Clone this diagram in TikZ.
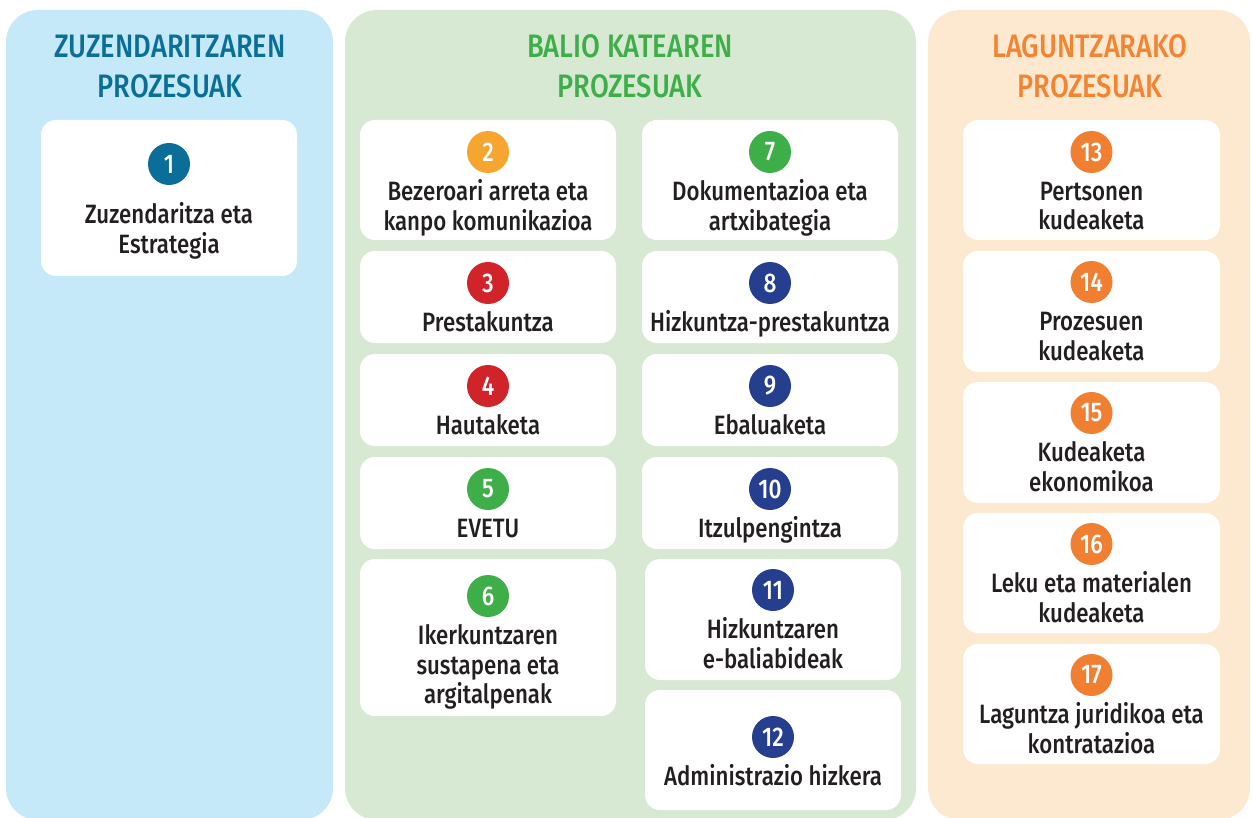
\documentclass[tikz,border=0pt]{standalone}
\usepackage{fontspec}
\setmainfont{Fira Sans}[UprightFont={* Medium}, FakeStretch=0.84]
\definecolor{bluebg}{HTML}{C5E9F8}
\definecolor{bluett}{HTML}{0A6F97}
\definecolor{greenbg}{HTML}{D8E9D3}
\definecolor{greentt}{HTML}{3EAE49}
\definecolor{orangebg}{HTML}{FDE9CF}
\definecolor{orangett}{HTML}{F28433}
\definecolor{cblue}{HTML}{0B6E99}
\definecolor{camber}{HTML}{F6A531}
\definecolor{cred}{HTML}{D1232A}
\definecolor{cgreen}{HTML}{3EAE49}
\definecolor{cnavy}{HTML}{253E8D}
\definecolor{corange}{HTML}{F07F32}
\definecolor{txt}{HTML}{231F20}
\tikzset{
  panel/.style={rectangle, rounded corners=32pt, inner sep=0pt, outer sep=0pt, anchor=north west, draw=none},
  card/.style={rectangle, fill=white, rounded corners=15pt, inner sep=0pt, outer sep=0pt, anchor=north west, draw=none},
  badge/.style={circle, minimum size=42pt, inner sep=0pt, text=white, font=\fontsize{27}{30}\selectfont},
  plabel/.style={anchor=base, inner sep=0pt, text=txt, font=\fontsize{26.5}{29.5}\selectfont},
  ptitle/.style={anchor=base, inner sep=0pt, font=\fontsize{32.5}{40}\selectfont},
}
\def\gap{48.5}
\newcommand\proc[9]{%
  \node[card, minimum width={#4-#2}, minimum height={#5-#3}] (#1) at (#2,#3) {};
  \node[badge, fill=#6] (#1n) at ({(#2+#4)/2},#8) {#7};
  \node[plabel] (#1t) at ({(#2+#4)/2},{#8+\gap}) {\begin{tabular}[t]{@{}c@{}}#9\end{tabular}};
}
\begin{document}
\begin{tikzpicture}[x=1pt,y=-1pt]
\useasboundingbox (0,0) rectangle (1252,818);
% panels
\node[panel, fill=bluebg, minimum width=327, minimum height=810] (pz) at (6,10) {};
\node[panel, fill=greenbg, minimum width=571, minimum height=810] (pb) at (345,10) {};
\node[panel, fill=orangebg, minimum width=322, minimum height=810] (pl) at (928,10) {};
% titles
\node[ptitle, text=bluett] (tz) at (170,58) {\begin{tabular}[t]{@{}c@{}}ZUZENDARITZAREN\\PROZESUAK\end{tabular}};
\node[ptitle, text=greentt] (tb) at (630,58) {\begin{tabular}[t]{@{}c@{}}BALIO KATEAREN\\PROZESUAK\end{tabular}};
\node[ptitle, text=orangett] (tl) at (1090,58) {\begin{tabular}[t]{@{}c@{}}LAGUNTZARAKO\\PROZESUAK\end{tabular}};
% boxes
\def\gap{60}
\proc{b1}{41}{120}{297}{276}{cblue}{1}{164}{Zuzendaritza eta\\Estrategia}
\def\gap{48.5}
\proc{b2}{360}{120}{616}{240}{camber}{2}{152}{Bezeroari arreta eta\\kanpo komunikazioa}
\proc{b3}{360}{251}{616}{343}{cred}{3}{283}{Prestakuntza}
\proc{b4}{360}{354}{616}{446}{cred}{4}{386}{Hautaketa}
\proc{b5}{360}{457}{616}{549}{cgreen}{5}{489}{EVETU}
\proc{b6}{360}{559}{616}{716}{cgreen}{6}{596}{Ikerkuntzaren\\sustapena eta\\argitalpenak}
\proc{b7}{642}{120}{898}{240}{cgreen}{7}{152}{Dokumentazioa eta\\artxibategia}
\proc{b8}{642}{251}{898}{343}{cnavy}{8}{283}{Hizkuntza-prestakuntza}
\proc{b9}{642}{354}{898}{446}{cnavy}{9}{386}{Ebaluaketa}
\proc{b10}{642}{457}{898}{549}{cnavy}{10}{489}{Itzulpengintza}
\proc{b11}{645}{559}{901}{680}{cnavy}{11}{590}{Hizkuntzaren\\e-baliabideak}
\proc{b12}{645}{690}{901}{810}{cnavy}{12}{737}{Administrazio hizkera}
\proc{b13}{963}{120}{1220}{240}{corange}{13}{152}{Pertsonen\\kudeaketa}
\proc{b14}{963}{251}{1220}{372}{corange}{14}{282}{Prozesuen\\kudeaketa}
\proc{b15}{963}{382}{1220}{503}{corange}{15}{413}{Kudeaketa\\ekonomikoa}
\proc{b16}{963}{513}{1220}{633}{corange}{16}{544}{Leku eta materialen\\kudeaketa}
\proc{b17}{963}{644}{1220}{764}{corange}{17}{675}{Laguntza juridikoa eta\\kontratazioa}
\end{tikzpicture}
\end{document}
